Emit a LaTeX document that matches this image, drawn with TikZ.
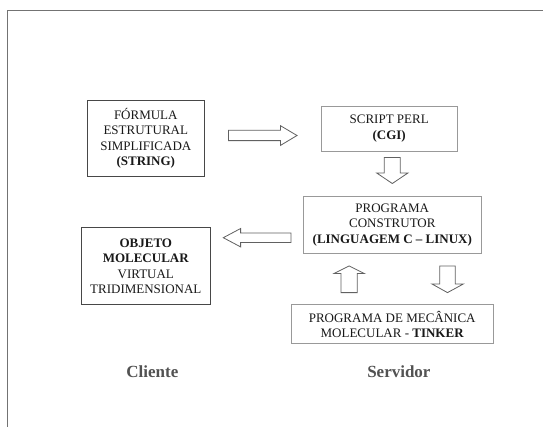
\documentclass[tikz,border=0pt]{standalone}
\usepackage{fontspec}
\setmainfont{Liberation Serif}
\begin{document}
\begin{tikzpicture}[x=1pt,y=-1pt,
  boxtext/.style={align=center,text=black!90,font=\fontsize{13}{15.4}\selectfont,inner sep=0pt},
  darkbox/.style={boxtext,draw=black!72,line width=0.9pt},
  lightbox/.style={boxtext,draw=black!40,line width=0.9pt},
  blockarrow/.style={draw=black!62,fill=white,line width=0.8pt,line join=miter},
  sidelabel/.style={text=black!68,font=\fontsize{17}{20}\selectfont\bfseries,inner sep=0pt}]
\useasboundingbox (0,0) rectangle (543,426);
\fill[white] (0,0) rectangle (543,426);
\draw[black!55,line width=1pt] (7,430) -- (7,10) -- (545,10);
% boxes
\node[darkbox,minimum width=117pt,minimum height=76.6pt] (formula) at (145.8,138.3)
  {FÓRMULA\\ESTRUTURAL\\SIMPLIFICADA\\\textbf{(STRING)}};
\node[lightbox,minimum width=135.8pt,minimum height=44.7pt] (perl) at (389.2,128.7)
  {SCRIPT PERL\\\textbf{(CGI)}};
\node[lightbox,minimum width=178.6pt,minimum height=57.8pt] (constr) at (392.3,224.9)
  {PROGRAMA\\CONSTRUTOR\\\textbf{(LINGUAGEM C – LINUX)}};
\node[darkbox,minimum width=129.5pt,minimum height=76.9pt] (objeto) at (145.8,266.3)
  {\textbf{OBJETO}\\\textbf{MOLECULAR}\\VIRTUAL\\TRIDIMENSIONAL};
\node[lightbox,minimum width=202.5pt,minimum height=39.1pt] (tinker) at (392.2,324.3)
  {PROGRAMA DE MECÂNICA\\MOLECULAR - \textbf{TINKER}};
\node[sidelabel] (cliente) at (152.4,371.2) {Cliente};
\node[sidelabel] (servidor) at (398.9,371.2) {Servidor};
% block arrows
% formula -> perl
\draw[blockarrow] (228.5,130.2) -- (280.5,130.2) -- (280.5,125.7) -- (297,135.5)
  -- (280.5,145.4) -- (280.5,140.6) -- (228.5,140.6) -- cycle;
% perl -> constr
\draw[blockarrow] (384.3,157.5) -- (400.3,157.5) -- (400.3,173) -- (407.9,173)
  -- (392.3,183.5) -- (376.7,173) -- (384.3,173) -- cycle;
% constr -> objeto
\draw[blockarrow] (290.9,233) -- (240.6,233) -- (240.6,228.5) -- (223.3,237.7)
  -- (240.6,246.9) -- (240.6,242.4) -- (290.9,242.4) -- cycle;
% tinker -> constr
\draw[blockarrow] (341,292.6) -- (341,273.5) -- (334,273.5) -- (349.1,265.9)
  -- (364.3,273.5) -- (357.3,273.5) -- (357.3,292.6) -- cycle;
% constr -> tinker
\draw[blockarrow] (439.7,265.9) -- (455.3,265.9) -- (455.3,284) -- (463.3,284)
  -- (447.5,292.6) -- (432,284) -- (439.7,284) -- cycle;
\end{tikzpicture}
\end{document}
